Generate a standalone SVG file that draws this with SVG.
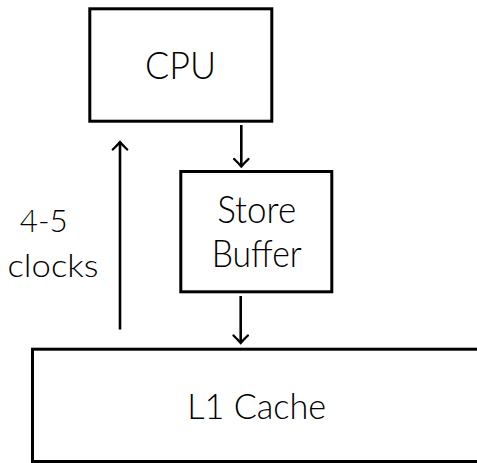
<svg xmlns="http://www.w3.org/2000/svg" width="477" height="463" viewBox="0 0 477 463">
<style>
.box{fill:#fff;stroke:#000;stroke-width:3}
.lbl{font-family:Lato,"Liberation Sans",Arial,sans-serif;font-weight:300;fill:#000;text-anchor:middle}
.big{font-size:38px}
.mid{font-size:35px}
.sm{font-size:30.5px}
.conn{stroke:#000;stroke-width:2.6;fill:none}
</style>
<defs>
<marker id="ah" markerWidth="20" markerHeight="20" refX="10" refY="10" orient="auto" markerUnits="userSpaceOnUse">
<path d="M2.5,2.8 Q7,7.5 10,10 Q7,12.5 2.5,17.2" fill="none" stroke="#000" stroke-width="2.4" stroke-linecap="round"/>
</marker>
</defs>
<rect width="477" height="463" fill="#fff"/>
<g id="cpu">
<rect class="box" x="89.8" y="8.8" width="182" height="112.4"/>
<text class="lbl big" x="180.5" y="79.3" textLength="71" lengthAdjust="spacingAndGlyphs">CPU</text>
</g>
<g id="store-buffer">
<rect class="box" x="180.8" y="171.5" width="151" height="120.3"/>
<text class="lbl big" x="256.7" y="223.3" textLength="79" lengthAdjust="spacingAndGlyphs">Store</text>
<text class="lbl big" x="256.7" y="267.3" textLength="90" lengthAdjust="spacingAndGlyphs">Buffer</text>
</g>
<g id="l1-cache">
<rect class="box" x="32.5" y="349.2" width="450" height="112.3"/>
<text class="lbl mid" x="256.7" y="419" textLength="139" lengthAdjust="spacingAndGlyphs">L1 Cache</text>
</g>
<g id="latency-label">
<text class="lbl sm" x="43.7" y="231.7" textLength="48" lengthAdjust="spacingAndGlyphs">4-5</text>
<text class="lbl sm" x="53" y="277" textLength="91" lengthAdjust="spacingAndGlyphs">clocks</text>
</g>
<g id="connectors">
<line class="conn" x1="241.3" y1="125" x2="241.3" y2="166.5" marker-end="url(#ah)"/>
<line class="conn" x1="240.7" y1="296" x2="240.7" y2="343" marker-end="url(#ah)"/>
<line class="conn" x1="120" y1="329.5" x2="120" y2="142" marker-end="url(#ah)"/>
</g>
</svg>
